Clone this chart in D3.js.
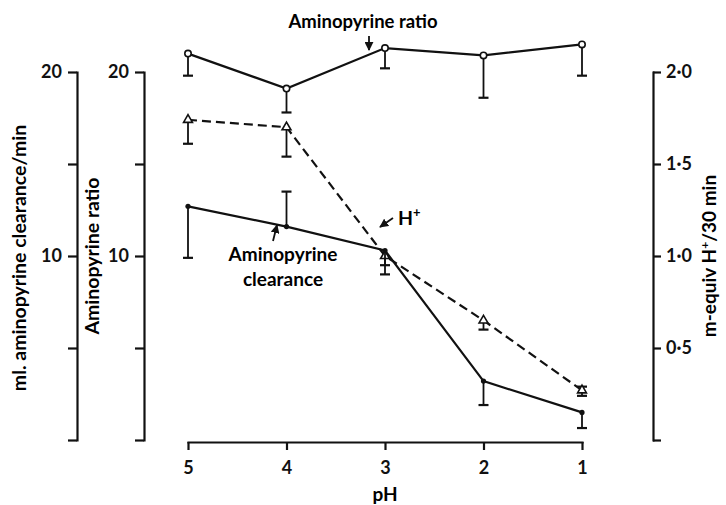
<!DOCTYPE html>
<html>
<head>
<meta charset="utf-8">
<script src="https://cdn.jsdelivr.net/npm/d3@7"></script>
<style>
  body { margin: 0; background: #fff; }
  svg { font-family: Lato, "Open Sans", sans-serif; font-weight: 700; }
  .axis path, .axis line { stroke: #111; stroke-width: 2.2; }
  .axis text { font-size: 18px; fill: #111; font-family: Lato, sans-serif; }
</style>
</head>
<body>
<svg width="726" height="505"></svg>
<script>
// data
const PH = [5, 4, 3, 2, 1]
const ratio = [21.0, 19.1, 21.3, 20.9, 21.5]
const ratioLo = [19.8, 17.8, 20.2, 18.6, 19.8]
const hPlus = [1.74, 1.70, 1.00, 0.65, 0.27]
const hPlusLo = [1.61, 1.54, 0.95, 0.60, 0.24]
const hPlusHi = [null, null, null, null, 0.29]
const clearance = [12.7, 11.6, 10.3, 3.2, 1.5]
const clearanceLo = [9.9, null, 9.0, 1.9, 0.65]
const clearanceHi = [null, 13.5, null, null, null]

const leftTicks = [0, 5, 10, 15, 20]
const rightTicks = [0, 0.5, 1, 1.5, 2]

const svg = d3.select('svg')

const x = d3.scaleLinear().domain([5, 1]).range([188, 582])
const yL = d3.scaleLinear().domain([0, 20]).range([440, 72])
const yR = d3.scaleLinear().domain([0, 2]).range([440, 72])

// axes
svg.append('g').attr('class', 'axis')
  .attr('transform', 'translate(0,442)')
  .call(d3.axisBottom(x).tickValues(PH).tickSize(8).tickSizeOuter(0).tickPadding(11).tickFormat(d3.format('d')))

const leftFmt = d => (d === 10 || d === 20) ? d : ''
svg.append('g').attr('class', 'axis')
  .attr('transform', 'translate(77,0)')
  .call(d3.axisLeft(yL).tickValues(leftTicks).tickSize(9).tickSizeOuter(0).tickPadding(6).tickFormat(leftFmt))

svg.append('g').attr('class', 'axis')
  .attr('transform', 'translate(144,0)')
  .call(d3.axisLeft(yL).tickValues(leftTicks).tickSize(9).tickSizeOuter(0).tickPadding(6).tickFormat(leftFmt))

svg.append('g').attr('class', 'axis')
  .attr('transform', 'translate(653,0)')
  .call(d3.axisRight(yR).tickValues(rightTicks).tickSize(8).tickSizeOuter(0).tickPadding(5)
    .tickFormat(d => d === 0 ? '' : d3.format('.1f')(d).replace('.', '\u00b7')))

svg.selectAll('.axis .domain').attr('stroke-linecap', 'square')

// axis titles
svg.append('text').attr('transform', 'translate(26,258) rotate(-90)')
  .attr('text-anchor', 'middle').attr('font-size', 19.5).text('ml. aminopyrine clearance/min')
svg.append('text').attr('transform', 'translate(99,256) rotate(-90)')
  .attr('text-anchor', 'middle').attr('font-size', 19.5).text('Aminopyrine ratio')
const rt = svg.append('text').attr('transform', 'translate(716,256) rotate(-90)')
  .attr('text-anchor', 'middle').attr('font-size', 19)
rt.append('tspan').text('m-equiv H')
rt.append('tspan').attr('baseline-shift', 'super').attr('font-size', 12).text('+')
rt.append('tspan').text('/30 min')
svg.append('text').attr('x', 385).attr('y', 501).attr('text-anchor', 'middle')
  .attr('font-size', 19).text('pH')

// series
const idx = d3.range(PH.length)
function series(vals, lo, hi, scale, dashed) {
  const g = svg.append('g')
  g.append('path')
    .datum(idx)
    .attr('fill', 'none').attr('stroke', '#111').attr('stroke-width', 2.2)
    .attr('stroke-dasharray', dashed ? '9,5' : null)
    .attr('d', d3.line().x(i => x(PH[i])).y(i => scale(vals[i])))
  const bars = [lo, hi]
  bars.forEach(b => {
    if (!b) return
    const eb = idx.filter(i => b[i] != null)
    g.selectAll(null).data(eb).enter().append('line')
      .attr('x1', i => x(PH[i])).attr('x2', i => x(PH[i]))
      .attr('y1', i => scale(vals[i])).attr('y2', i => scale(b[i]))
      .attr('stroke', '#111').attr('stroke-width', 1.8)
    g.selectAll(null).data(eb).enter().append('line')
      .attr('x1', i => x(PH[i]) - 5).attr('x2', i => x(PH[i]) + 5)
      .attr('y1', i => scale(b[i])).attr('y2', i => scale(b[i]))
      .attr('stroke', '#111').attr('stroke-width', 2.2)
  })
  return g
}

const gRatio = series(ratio, ratioLo, null, yL, false)
gRatio.selectAll('circle').data(idx).enter().append('circle')
  .attr('cx', i => x(PH[i])).attr('cy', i => yL(ratio[i])).attr('r', 3.2)
  .attr('fill', '#fff').attr('stroke', '#111').attr('stroke-width', 1.6)

const gH = series(hPlus, hPlusLo, hPlusHi, yR, true)
gH.selectAll('path.tri').data(idx).enter().append('path').attr('class', 'tri')
  .attr('transform', i => `translate(${x(PH[i])},${yR(hPlus[i])})`)
  .attr('d', d3.symbol(d3.symbolTriangle, 34))
  .attr('fill', '#fff').attr('stroke', '#111').attr('stroke-width', 1.6)

const gC = series(clearance, clearanceLo, clearanceHi, yL, false)
gC.selectAll('circle').data(idx).enter().append('circle')
  .attr('cx', i => x(PH[i])).attr('cy', i => yL(clearance[i])).attr('r', 2.6)
  .attr('fill', '#111')

// annotations with arrows
svg.append('defs').append('marker').attr('id', 'ah')
  .attr('viewBox', '0 0 10 10').attr('refX', 9).attr('refY', 5)
  .attr('markerWidth', 5).attr('markerHeight', 5).attr('orient', 'auto')
  .append('path').attr('d', 'M0,0 L10,5 L0,10 z').attr('fill', '#111')

function arrow(x1, y1, x2, y2) {
  svg.append('line').attr('x1', x1).attr('y1', y1).attr('x2', x2).attr('y2', y2)
    .attr('stroke', '#111').attr('stroke-width', 1.8).attr('marker-end', 'url(#ah)')
}

svg.append('text').attr('x', 363).attr('y', 28).attr('text-anchor', 'middle')
  .attr('font-size', 18.5).text('Aminopyrine ratio')
arrow(369, 36, 369, 50)

const ht = svg.append('text').attr('x', 398).attr('y', 225).attr('font-size', 19.5)
ht.append('tspan').text('H')
ht.append('tspan').attr('baseline-shift', 'super').attr('font-size', 13).text('+')
arrow(393, 218, 380, 227)

svg.append('text').attr('x', 283).attr('y', 261).attr('text-anchor', 'middle')
  .attr('font-size', 19).text('Aminopyrine')
svg.append('text').attr('x', 283).attr('y', 286).attr('text-anchor', 'middle')
  .attr('font-size', 19).text('clearance')
arrow(273, 241, 277, 225)
</script>
</body>
</html>
